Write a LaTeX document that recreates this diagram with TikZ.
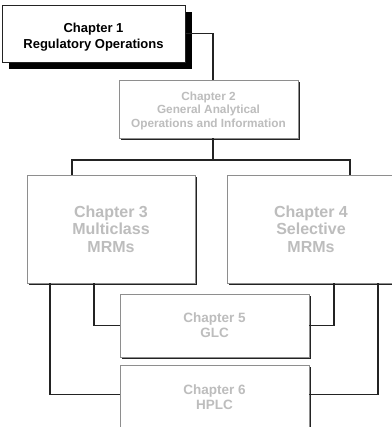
\documentclass[tikz,border=0pt]{standalone}
\usepackage{fontspec}
\setmainfont{Liberation Sans}
\usetikzlibrary{shadows}
\definecolor{inkdark}{HTML}{232323}
\definecolor{framegray}{HTML}{8E8E8E}
\definecolor{textgray}{HTML}{BDBDBD}
\tikzset{
	chbox/.style={draw=framegray, line width=0.8pt, fill=white, align=center, inner sep=0pt,
		drop shadow={shadow xshift=1.6pt, shadow yshift=-1.6pt, fill=inkdark, opacity=1},
		text=textgray, font=\bfseries},
	topbox/.style={draw=inkdark, line width=0.8pt, fill=white, align=center, inner sep=0pt,
		drop shadow={shadow xshift=7pt, shadow yshift=-7pt, fill=black, opacity=1},
		text=black, font=\fontsize{13}{16}\selectfont\bfseries},
	link/.style={draw=inkdark, line width=1.6pt}
}
\begin{document}
\begin{tikzpicture}[x=1pt,y=-1pt]
		\useasboundingbox (0,0) rectangle (391,427);
		\node[topbox, minimum width=183pt, minimum height=57pt, text height=33pt] (ch1) at (93.5,33.5) {Chapter 1\\Regulatory Operations};
		\node[chbox, minimum width=179pt, minimum height=58pt, text height=40pt, font=\fontsize{11.8}{13.8}\selectfont\bfseries] (ch2) at (208.5,109) {Chapter 2\\General Analytical\\Operations and Information};
		\node[chbox, minimum width=168pt, minimum height=108pt, font=\fontsize{16}{17.5}\selectfont\bfseries] (ch3) at (111,229) {Chapter 3\\Multiclass\\MRMs};
		\node[chbox, minimum width=168pt, minimum height=108pt, font=\fontsize{16}{17.5}\selectfont\bfseries] (ch4) at (311,229) {Chapter 4\\Selective\\MRMs};
		\node[chbox, minimum width=189pt, minimum height=63pt, font=\fontsize{13.5}{15}\selectfont\bfseries] (ch5) at (214.5,325.5) {Chapter 5\\GLC};
		\node[chbox, minimum width=189pt, minimum height=80pt, font=\fontsize{13.5}{15}\selectfont\bfseries, text depth=15pt] (ch6) at (214.5,405) {Chapter 6\\HPLC};
		\coordinate (bar) at (213,160);
		
		\draw[link] (ch1.east) -| ([xshift=4.5pt]ch2.north);
		\draw[link] ([xshift=4.5pt]ch2.south) -- (bar);
		\draw[link] ([xshift=-39pt]ch3.north) |- (bar) -| ([xshift=39pt]ch4.north);
		\draw[link] ([xshift=-17pt]ch3.south) |- (ch5.west);
		\draw[link] ([xshift=-61pt]ch3.south) |- ([yshift=-30pt]ch6.north west);
		\draw[link] ([xshift=23pt]ch4.south) |- (ch5.east);
		\draw[link] ([xshift=67pt]ch4.south) |- ([yshift=-30pt]ch6.north east);
	\end{tikzpicture}
\end{document}
